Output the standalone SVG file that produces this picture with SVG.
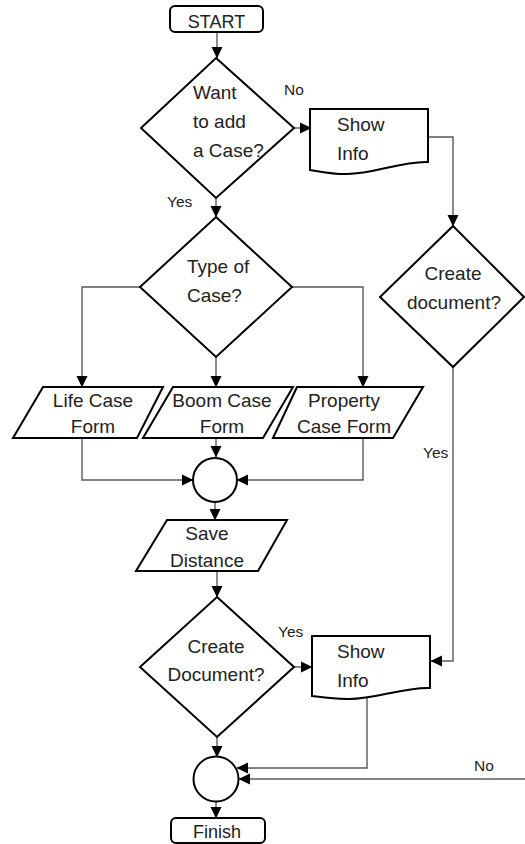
<svg xmlns="http://www.w3.org/2000/svg" width="525" height="844" viewBox="0 0 525 844">
<style>
.s{fill:#fff;stroke:#000;stroke-width:2;stroke-linejoin:miter}
.c{fill:none;stroke:#5a5a5a;stroke-width:1.4;marker-end:url(#ah)}
.t{font-family:"Liberation Sans",Arial,sans-serif;font-size:19px;fill:#222}
.m{text-anchor:middle}
.l{font-family:"Liberation Sans",Arial,sans-serif;font-size:15.5px;fill:#222}
</style>
<defs>
<marker id="ah" markerUnits="userSpaceOnUse" markerWidth="12" markerHeight="12" viewBox="0 0 12 12" refX="11" refY="6" orient="auto">
<path d="M0,0.5 L11.5,6 L0,11.5 Z" fill="#000"/>
</marker>
</defs>
<rect width="525" height="844" fill="#fff"/>
<g id="connectors">
<path class="c" d="M217,32 V58"/>
<path class="c" d="M294,128 H311"/>
<path class="c" d="M428,137 H453 V226"/>
<path class="c" d="M216,198 V217"/>
<path class="c" d="M140,287 H82 V387"/>
<path class="c" d="M216,357 V387"/>
<path class="c" d="M292,287 H363 V387"/>
<path class="c" d="M82,438 V480 H193"/>
<path class="c" d="M216,438 V457"/>
<path class="c" d="M363,438 V480 H237"/>
<path class="c" d="M215,502 V520"/>
<path class="c" d="M217,571 V597"/>
<path class="c" d="M294,667 H312"/>
<path class="c" d="M453,367 V661 H431"/>
<path class="c" d="M367,692 V768 H237"/>
<path class="c" d="M525,779 H239"/>
<path class="c" d="M217,737 V757"/>
<path class="c" d="M216,802 V818"/>
<text class="l" x="284" y="95">No</text>
<text class="l" x="167" y="207">Yes</text>
<text class="l" x="423" y="458">Yes</text>
<text class="l" x="278" y="637">Yes</text>
<text class="l" x="474" y="771">No</text>
</g>
<g id="start">
<rect class="s" x="170" y="6" width="93" height="26" rx="5"/>
<text class="t m" x="216.5" y="27.5" style="font-size:18px">START</text>
</g>
<g id="want-case">
<polygon class="s" points="216,58 294,128 216,198 141,128"/>
<text class="t" x="193" y="99">Want</text>
<text class="t" x="193" y="128">to add</text>
<text class="t" x="193" y="157">a Case?</text>
</g>
<g id="show-info-1">
<path class="s" d="M310,109 H428 V162 C400,161 372,175 345,174 C330,174 318,171 310,170 Z"/>
<text class="t" x="337" y="131">Show</text>
<text class="t" x="337" y="160">Info</text>
</g>
<g id="create-doc-1">
<polygon class="s" points="453,226 524,297 453,367 380,297"/>
<text class="t m" x="453" y="280">Create</text>
<text class="t m" x="454" y="309">document?</text>
</g>
<g id="type-case">
<polygon class="s" points="216,217 292,287 216,357 140,287"/>
<text class="t" x="187" y="273">Type of</text>
<text class="t" x="187" y="302">Case?</text>
</g>
<g id="life-case">
<polygon class="s" points="43,387 163,387 137,438 13,438"/>
<text class="t m" x="93" y="407">Life Case</text>
<text class="t m" x="93" y="433">Form</text>
</g>
<g id="boom-case">
<polygon class="s" points="173,387 293,387 263,438 143,438"/>
<text class="t m" x="222" y="407">Boom Case</text>
<text class="t m" x="222" y="433">Form</text>
</g>
<g id="property-case">
<polygon class="s" points="297,387 423,387 393,438 273,438"/>
<text class="t m" x="344" y="407">Property</text>
<text class="t m" x="344" y="433">Case Form</text>
</g>
<g id="merge-1">
<circle class="s" cx="215" cy="480" r="22"/>
</g>
<g id="save-distance">
<polygon class="s" points="167,520 287,520 258,571 136,571"/>
<text class="t m" x="207" y="540">Save</text>
<text class="t m" x="207" y="567">Distance</text>
</g>
<g id="create-doc-2">
<polygon class="s" points="217,597 294,667 217,737 140,667"/>
<text class="t m" x="216" y="653">Create</text>
<text class="t m" x="216" y="681">Document?</text>
</g>
<g id="show-info-2">
<path class="s" d="M312,636 H430 V688 C402,687 374,700 347,699 C332,699 320,697 312,696 Z"/>
<text class="t" x="337" y="658">Show</text>
<text class="t" x="337" y="687">Info</text>
</g>
<g id="merge-2">
<circle class="s" cx="216" cy="779" r="22.5"/>
</g>
<g id="finish">
<rect class="s" x="171" y="818" width="94" height="25" rx="5"/>
<text class="t m" x="217" y="838" style="font-size:18px">Finish</text>
</g>
</svg>
